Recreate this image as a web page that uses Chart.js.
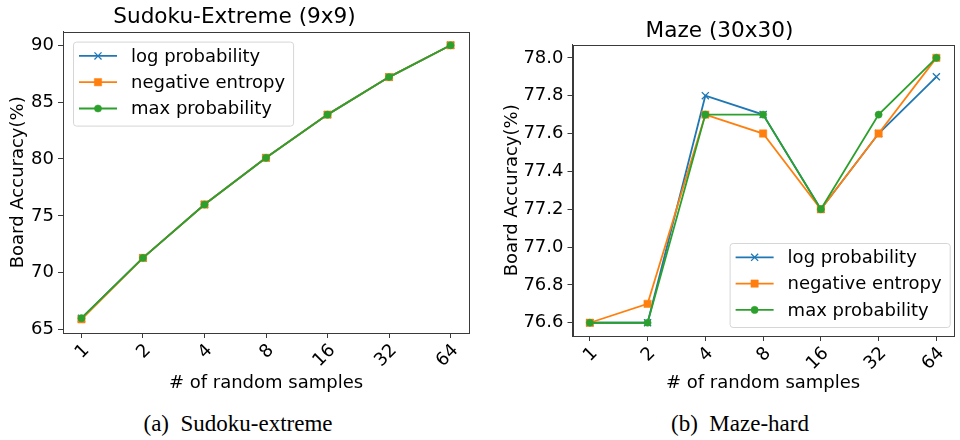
<!DOCTYPE html>
<html>
<head>
<meta charset="utf-8">
<script src="https://cdn.jsdelivr.net/npm/chart.js@4.4.1/dist/chart.umd.min.js"></script>
<style>
  body { margin: 0; background: #fff; }
  #wrap { position: relative; width: 960px; height: 440px; overflow: hidden; background: #fff; }
  .panel { position: absolute; top: 0; width: 480px; height: 400px; }
  .cap { position: absolute; top: 410px; height: 28px; line-height: 28px; width: 400px; text-align: center;
         font-family: "Liberation Serif", "DejaVu Serif", serif; font-size: 23px; color: #000; white-space: pre; }
</style>
</head>
<body>
<div id="wrap">
  <div class="panel" style="left:0"><canvas id="sudoku" width="480" height="400"></canvas></div>
  <div class="panel" style="left:480px"><canvas id="maze" width="480" height="400"></canvas></div>
  <div class="cap" style="left:38px">(a)  Sudoku-extreme</div>
  <div class="cap" style="left:540px">(b)  Maze-hard</div>
</div>
<script>
// number of random samples (x categories)
const samples = ['1', '2', '4', '8', '16', '32', '64'];
const seriesNames = ['log probability', 'negative entropy', 'max probability'];

// Sudoku-Extreme (9x9) board accuracy
const sudokuLogProb = [66.0, 71.3, 76.0, 80.1, 83.9, 87.2, 90.0];
const sudokuNegEntropy = [65.9, 71.3, 76.0, 80.1, 83.9, 87.2, 90.0];
const sudokuMaxProb = [66.0, 71.3, 76.0, 80.1, 83.9, 87.2, 90.0];
const sudokuTicks = [65, 70, 75, 80, 85, 90];

// Maze (30x30) board accuracy
const mazeLogProb = [76.6, 76.6, 77.8, 77.7, 77.2, 77.6, 77.9];
const mazeNegEntropy = [76.6, 76.7, 77.7, 77.6, 77.2, 77.6, 78.0];
const mazeMaxProb = [76.6, 76.6, 77.7, 77.7, 77.2, 77.7, 78.0];
const mazeTicks = [76.6, 76.8, 77.0, 77.2, 77.4, 77.6, 77.8, 78.0];

const colors = ['#1f77b4', '#ff7f0e', '#2ca02c'];
const markers = [
  { pointStyle: 'crossRot', radius: 5, borderWidth: 1.3 },
  { pointStyle: 'rect', radius: 5.2, borderWidth: 0.5 },
  { pointStyle: 'circle', radius: 3.6, borderWidth: 0.5 }
];
const FONT = '"DejaVu Sans", sans-serif';

function makeDatasets(seriesList) {
  return seriesList.map((vals, i) => ({
    label: seriesNames[i],
    data: vals.map((v, j) => ({ x: j, y: v })),
    borderColor: colors[i],
    backgroundColor: colors[i],
    borderWidth: 1.8,
    pointStyle: markers[i].pointStyle,
    pointRadius: markers[i].radius,
    pointHoverRadius: markers[i].radius,
    pointBorderWidth: markers[i].borderWidth,
    order: 3 - i,
    tension: 0
  }));
}

// frame around the plot + legend inside the plot (matplotlib style)
const framePlugin = {
  id: 'frame',
  afterDatasetsDraw(chart, args, opts) {
    const { ctx, chartArea: a } = chart;
    ctx.save();
    ctx.strokeStyle = '#3a3a3a';
    ctx.lineWidth = 1;
    ctx.strokeRect(Math.round(a.left) + 0.5, Math.round(a.top) + 0.5,
                   Math.round(a.right - a.left), Math.round(a.bottom - a.top));
    // legend
    ctx.font = '18px ' + FONT;
    const rows = chart.data.datasets;
    let tw = 0;
    rows.forEach(d => { tw = Math.max(tw, ctx.measureText(d.label).width); });
    const w = 58 + tw + 8, h = 84, rowH = 26.3;
    const x0 = opts.corner === 'ul' ? a.left + 10 : a.right - 4 - w;
    const y0 = opts.corner === 'ul' ? a.top + 10 : a.bottom - 9 - h;
    ctx.beginPath();
    ctx.roundRect(x0 + 0.5, y0 + 0.5, w, h, 3);
    ctx.fillStyle = 'rgba(255,255,255,0.85)';
    ctx.fill();
    ctx.strokeStyle = '#d6d6d6';
    ctx.stroke();
    rows.forEach((d, i) => {
      const y = y0 + 14.3 + i * rowH;
      ctx.strokeStyle = d.borderColor;
      ctx.lineWidth = 1.8;
      ctx.beginPath();
      ctx.moveTo(x0 + 6, y);
      ctx.lineTo(x0 + 44, y);
      ctx.stroke();
      ctx.fillStyle = d.backgroundColor;
      ctx.lineWidth = d.pointBorderWidth;
      Chart.helpers.drawPoint(ctx, { pointStyle: d.pointStyle, radius: d.pointRadius, rotation: 0, borderWidth: d.pointBorderWidth }, x0 + 25, y);
      ctx.fillStyle = '#000';
      ctx.textBaseline = 'middle';
      ctx.textAlign = 'left';
      ctx.fillText(d.label, x0 + 58, y + 1);
    });
    ctx.restore();
  }
};

function buildChart(id, title, seriesList, yMin, yMax, yTicks, decimals, cfg) {
  const ctx = document.getElementById(id).getContext('2d');
  return new Chart(ctx, {
    type: 'line',
    data: { datasets: makeDatasets(seriesList) },
    options: {
      responsive: false,
      animation: false,
      events: [],
      layout: { padding: { left: 0, right: cfg.padRight, top: 0, bottom: 0 } },
      plugins: {
        legend: { display: false },
        tooltip: { enabled: false },
        title: {
          display: true, text: title, color: '#000',
          font: { family: FONT, size: 21.6, weight: 'normal', lineHeight: 1 },
          padding: cfg.titlePad
        },
        frame: { corner: cfg.legendCorner }
      },
      scales: {
        x: {
          type: 'linear', min: -0.3, max: 6.3,
          afterBuildTicks: s => { s.ticks = samples.map((_, i) => ({ value: i })); },
          afterFit: s => { s.height = cfg.xHeight; s.paddingLeft = 0; s.paddingRight = 0; },
          ticks: {
            color: '#000', font: { family: FONT, size: 18 }, padding: 2,
            minRotation: 45, maxRotation: 45, autoSkip: false, labelOffset: 5,
            callback: v => samples[v]
          },
          grid: { drawOnChartArea: false, color: '#3a3a3a', tickLength: 5 },
          border: { color: '#3a3a3a' },
          title: {
            display: true, text: '# of random samples', color: '#000',
            font: { family: FONT, size: 18 }, padding: { top: 6, bottom: 6 }
          }
        },
        y: {
          min: yMin, max: yMax,
          afterBuildTicks: s => { s.ticks = yTicks.map(v => ({ value: v })); },
          afterFit: s => { s.width = cfg.yWidth; s.paddingTop = 0; s.paddingBottom = 0; },
          ticks: {
            color: '#000', font: { family: FONT, size: 18 }, padding: 4,
            callback: v => v.toFixed(decimals)
          },
          grid: { drawOnChartArea: false, color: '#3a3a3a', tickLength: 5 },
          border: { color: '#3a3a3a' },
          title: {
            display: true, text: 'Board Accuracy(%)', color: '#000',
            font: { family: FONT, size: 18 }, padding: { top: cfg.yTitlePad, bottom: cfg.yTitlePad }
          }
        }
      }
    },
    plugins: [framePlugin]
  });
}

buildChart('sudoku', 'Sudoku-Extreme (9x9)',
  [sudokuLogProb, sudokuNegEntropy, sudokuMaxProb], 64.7, 91.2, sudokuTicks, 0,
  { padRight: 11, titlePad: { top: 7, bottom: 3 }, xHeight: 67, yWidth: 63, yTitlePad: 8, legendCorner: 'ul' });

buildChart('maze', 'Maze (30x30)',
  [mazeLogProb, mazeNegEntropy, mazeMaxProb], 76.53, 78.07, mazeTicks, 1,
  { padRight: 1, titlePad: { top: 21, bottom: 2 }, xHeight: 64, yWidth: 92.5, yTitlePad: 22, legendCorner: 'lr' });
</script>
</body>
</html>
